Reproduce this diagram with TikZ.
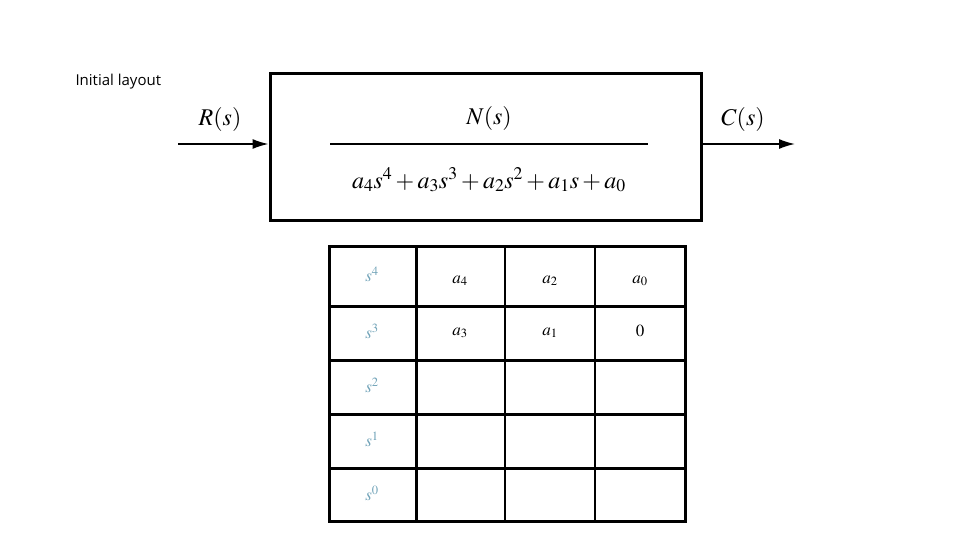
\documentclass[tikz,border=0pt]{standalone}
\usetikzlibrary{arrows.meta}
\usepackage{fontspec}
\usepackage{mathptmx}
\newfontfamily\lightsans{Open Sans}
\begin{document}
\begin{tikzpicture}[x=1pt,y=-1pt,
  thickline/.style={line width=3pt},
  cell/.style={font=\fontsize{17}{20}\selectfont},
  pw/.style={font=\fontsize{17}{20}\selectfont,text=cyan!40!gray}]
\useasboundingbox (0,0) rectangle (960,540);
\begin{scope}
\clip (60,60) rectangle (166,100);
\node[anchor=west,font=\lightsans\fontsize{15}{18}\selectfont] (title) at (72,82) {Initial layout};
\end{scope}
\node[draw,thickline,minimum width=431,minimum height=146,inner sep=0] (box) at (485.5,147) {};
\draw[line width=1.5pt] (330,144) -- (648,144);
\node[font=\fontsize{24}{28}\selectfont] (num) at (489,119) {$N(s)$};
\node[font=\fontsize{24}{28}\selectfont] (den) at (489,180) {$a_4s^4+a_3s^3+a_2s^2+a_1s+a_0$};
\coordinate (rin) at (178,144);
\coordinate (cout) at (795,144);
\draw[line width=1.5pt,-{Latex[length=16pt,width=10pt]}] (rin) -- (box.west |- rin);
\draw[line width=1.5pt,-{Latex[length=16pt,width=10pt]}] (box.east |- cout) -- (cout);
\node[font=\fontsize{24}{28}\selectfont] (R) at (220,120) {$R(s)$};
\node[font=\fontsize{24}{28}\selectfont] (C) at (743,120) {$C(s)$};
% table
\draw[thickline] (329,246) rectangle (685,521);
\foreach \y in {306,360,414,468} \draw[thickline] (329,\y) -- (685,\y);
\draw[thickline] (416,246) -- (416,521);
\foreach \x in {505,595} \draw[line width=1.2pt] (\x,246) -- (\x,521);
\node[pw] (p4) at (372,274) {$s^4$};
\node[pw] (p3) at (372,331) {$s^3$};
\node[pw] (p2) at (372,385) {$s^2$};
\node[pw] (p1) at (372,439) {$s^1$};
\node[pw] (p0) at (372,493) {$s^0$};
\node[cell] (a4) at (460,281) {$a_4$};
\node[cell] (a2) at (550,281) {$a_2$};
\node[cell] (a0) at (640,281) {$a_0$};
\node[cell] (a3) at (460,333) {$a_3$};
\node[cell] (a1) at (550,333) {$a_1$};
\node[cell] (z) at (640,331) {$0$};
\end{tikzpicture}
\end{document}
